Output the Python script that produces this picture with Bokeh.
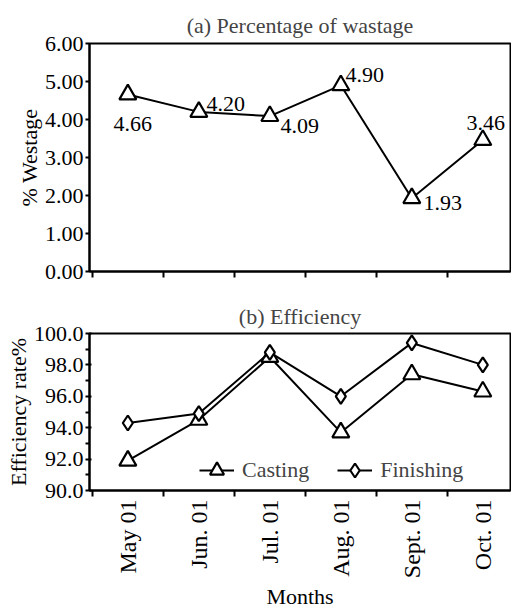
from bokeh.plotting import figure
from bokeh.layouts import column
from bokeh.models import (ColumnDataSource, FixedTicker, NumeralTickFormatter,
                          Range1d, Legend, LegendItem)
from bokeh.embed import file_html
from bokeh.resources import INLINE
from bokeh.core.properties import value
import math

# ---------------- data ----------------
months = ["May 01", "Jun. 01", "Jul. 01", "Aug. 01", "Sept. 01", "Oct. 01"]
wastage = [4.66, 4.20, 4.09, 4.90, 1.93, 3.46]
wastage_labels = ["4.66", "4.20", "4.09", "4.90", "1.93", "3.46"]
casting = [91.9, 94.5, 98.5, 93.7, 97.4, 96.3]
finishing = [94.3, 94.9, 98.8, 96.0, 99.4, 98.0]

# label placement (screen px offsets, style only)
label_dx = [5, 27, 30, 24, 31, 3]
label_dy = [30, -8, 10, -10, 5, -17]

FONT = "Liberation Serif"
FS = "22px"
xs = list(range(len(months)))
x_start, x_end = -0.54, 5.39
boundaries = [i + 0.5 for i in range(-1, 6)]


def style(p):
    p.outline_line_color = "black"
    p.outline_line_width = 2
    p.xgrid.visible = False
    p.ygrid.visible = False
    p.background_fill_color = "white"
    p.border_fill_color = "white"
    p.title.text_font = FONT
    p.title.text_font_size = FS
    p.title.text_font_style = "normal"
    p.title.align = "center"
    for ax in p.axis:
        ax.axis_line_color = "black"
        ax.axis_line_width = 2
        ax.major_tick_line_color = "black"
        ax.major_tick_line_width = 2
        ax.minor_tick_line_color = "black"
        ax.minor_tick_line_width = 2
        ax.major_label_text_font = FONT
        ax.major_label_text_font_size = FS
        ax.major_label_text_color = "black"
        ax.axis_label_text_font = FONT
        ax.axis_label_text_font_size = FS
        ax.axis_label_text_font_style = "normal"
        ax.axis_label_text_color = "black"


# ---------------- (a) wastage ----------------
p1 = figure(width=511, height=285, output_backend="svg", toolbar_location=None,
            title="(a) Percentage of wastage",
            x_range=Range1d(x_start, x_end), y_range=Range1d(0, 6),
            min_border_left=89, min_border_right=1, min_border_top=43,
            min_border_bottom=14)
style(p1)
p1.title.standoff = 12

src1 = ColumnDataSource(dict(x=xs, y=wastage, lab=wastage_labels,
                             dx=label_dx, dy=label_dy))
p1.line("x", "y", source=src1, line_color="black", line_width=2)
p1.scatter("x", "y", source=src1, marker="triangle", size=17,
           fill_color="white", line_color="black", line_width=2.2)
p1.text("x", "y", text="lab", source=src1, x_offset="dx", y_offset="dy",
        text_font=value(FONT), text_font_size=FS, text_align="center",
        text_baseline="middle", text_color="black")

p1.xaxis.ticker = FixedTicker(ticks=[], minor_ticks=boundaries)
p1.xaxis.minor_tick_out = 6
p1.xaxis.minor_tick_in = 0
p1.xaxis.major_tick_out = 0

p1.yaxis.ticker = FixedTicker(ticks=[0, 1, 2, 3, 4, 5, 6])
p1.yaxis.formatter = NumeralTickFormatter(format="0.00")
p1.yaxis.axis_label = "% Westage"
p1.yaxis.major_tick_out = 4
p1.yaxis.major_tick_in = 0
p1.yaxis.major_label_standoff = 2
p1.yaxis.axis_label_standoff = 0

# ---------------- (b) efficiency ----------------
p2 = figure(width=511, height=327, output_backend="svg", toolbar_location=None,
            title="(b) Efficiency",
            x_range=Range1d(x_start, x_end), y_range=Range1d(90, 100),
            min_border_left=89, min_border_right=1, min_border_top=48,
            min_border_bottom=119)
style(p2)
p2.title.standoff = 10

src2 = ColumnDataSource(dict(x=xs, c=casting, f=finishing))
lc = p2.line("x", "c", source=src2, line_color="black", line_width=2)
sc = p2.scatter("x", "c", source=src2, marker="triangle", size=17,
                fill_color="white", line_color="black", line_width=2.2)
lf = p2.line("x", "f", source=src2, line_color="black", line_width=2)
sf = p2.scatter("x", "f", source=src2, marker="diamond", size=15,
                fill_color="white", line_color="black", line_width=2.2)

legend = Legend(items=[LegendItem(label="Casting", renderers=[lc, sc]),
                       LegendItem(label="Finishing", renderers=[lf, sf])],
                orientation="horizontal", location=(110, 2),
                border_line_color=None, background_fill_alpha=0,
                label_text_font=FONT, label_text_font_size=FS,
                glyph_width=35, glyph_height=36, label_height=36,
                spacing=28, padding=0, margin=0, label_standoff=8)
p2.add_layout(legend, "center")

p2.xaxis.ticker = FixedTicker(ticks=xs, minor_ticks=boundaries)
p2.xaxis.major_label_overrides = {i: m for i, m in enumerate(months)}
p2.xaxis.major_label_orientation = math.pi / 2
p2.xaxis.major_label_text_font_size = "24px"
p2.xaxis.major_tick_line_color = None
p2.xaxis.major_tick_out = 6
p2.xaxis.minor_tick_out = 6
p2.xaxis.minor_tick_in = 0
p2.xaxis.major_label_standoff = 3
p2.xaxis.axis_label = "Months"
p2.xaxis.axis_label_standoff = 3

p2.yaxis.ticker = FixedTicker(ticks=[90, 92, 94, 96, 98, 100],
                              minor_ticks=[91, 93, 95, 97, 99])
p2.yaxis.formatter = NumeralTickFormatter(format="0.0")
p2.yaxis.axis_label = "Efficiency rate%"
p2.yaxis.major_tick_out = 4
p2.yaxis.major_tick_in = 2
p2.yaxis.minor_tick_out = 4
p2.yaxis.minor_tick_in = 0
p2.yaxis.major_label_standoff = 2
p2.yaxis.axis_label_standoff = 0

layout = column(p1, p2, spacing=0)
open("out.html", "w").write(file_html(layout, INLINE))
